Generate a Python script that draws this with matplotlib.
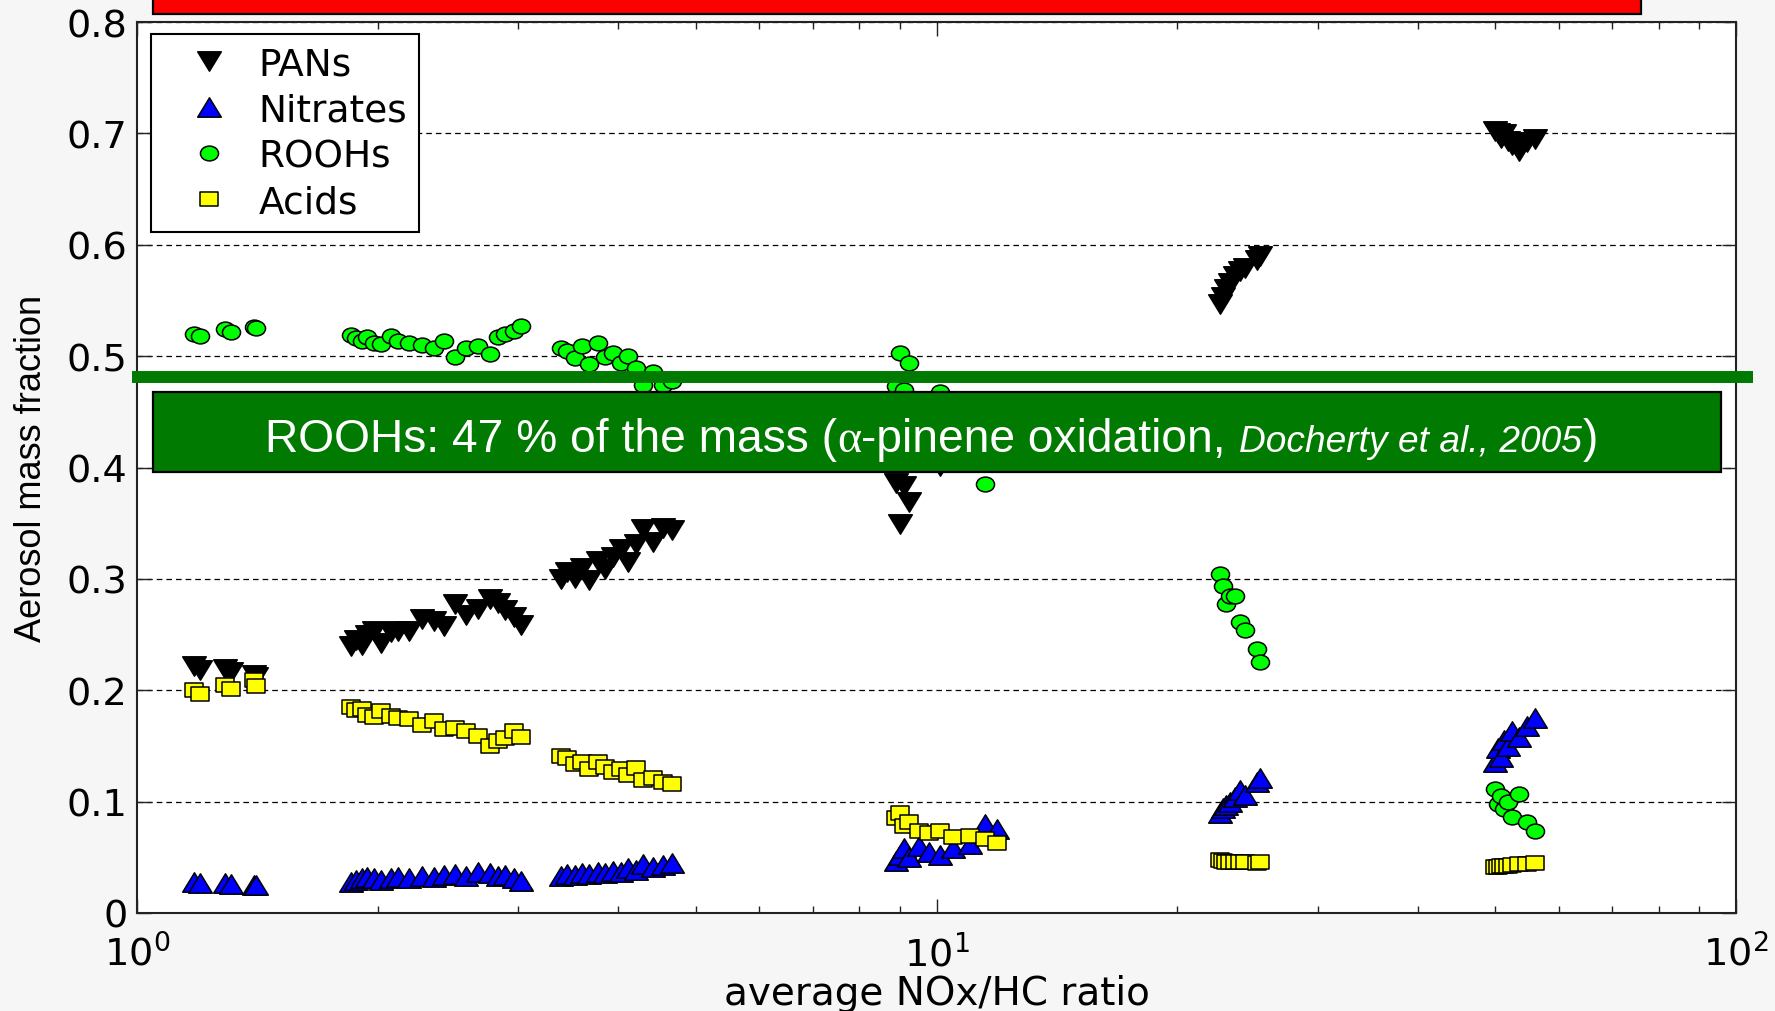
import numpy as np
import matplotlib
matplotlib.use("Agg")
import matplotlib.pyplot as plt
from matplotlib.path import Path
from matplotlib.markers import MarkerStyle
from matplotlib.patches import Rectangle
from matplotlib.lines import Line2D
from matplotlib.ticker import LogLocator, NullFormatter
import matplotlib.transforms as mtransforms

# ---- data: average NOx/HC ratio of each simulated run and the aerosol mass fractions ----
nox_hc = [
    # series of runs near NOx/HC ~ 1.2-1.4
    1.18, 1.20, 1.29, 1.31, 1.40, 1.41,
    # ~ 1.8-3
    1.85, 1.88, 1.91, 1.94, 1.98, 2.02, 2.08, 2.12, 2.19, 2.27,
    2.35, 2.42, 2.50, 2.58, 2.67, 2.76, 2.83, 2.89, 2.96, 3.02,
    # ~ 3.4-4.7
    3.39, 3.45, 3.53, 3.60, 3.68, 3.77, 3.85, 3.94, 4.03, 4.11,
    4.21, 4.30, 4.42, 4.55, 4.67,
    # ~ 9-12
    8.9, 9.0, 9.1, 9.25, 9.5, 9.8, 10.1, 10.5, 11.0, 11.5, 11.9,
    # ~ 23-25
    22.6, 22.8, 23.0, 23.3, 23.6, 24.0, 24.3, 25.2, 25.4,
    # ~ 50-56
    50.0, 50.4, 50.8, 51.3, 51.8, 52.5, 53.5, 54.7, 56.0,
]

pans = [
    0.222, 0.218, 0.219, 0.216, 0.214, 0.212,
    0.240, 0.245, 0.241, 0.250, 0.253, 0.242, 0.252, 0.253, 0.253, 0.264,
    0.262, 0.258, 0.277, 0.268, 0.273, 0.282, 0.278, 0.272, 0.266, 0.259,
    0.300, 0.306, 0.301, 0.310, 0.299, 0.316, 0.309, 0.320, 0.327, 0.315,
    0.331, 0.345, 0.333, 0.346, 0.344,
    0.386, 0.349, 0.383, 0.369, 0.412, 0.418, 0.401, 0.425, 0.432, 0.438, 0.445,
    0.547, 0.553, 0.560, 0.566, 0.572, 0.576, 0.579, 0.586, 0.590,
    0.702, 0.700, 0.696, 0.699, 0.693, 0.690, 0.684, 0.692, 0.695,
]

nitrates = [
    0.028, 0.027, 0.027, 0.026, 0.025, 0.025,
    0.028, 0.030, 0.031, 0.032, 0.031, 0.030, 0.031, 0.032, 0.031, 0.033,
    0.032, 0.034, 0.035, 0.033, 0.037, 0.036, 0.033, 0.034, 0.031, 0.029,
    0.033, 0.035, 0.034, 0.036, 0.035, 0.037, 0.036, 0.038, 0.037, 0.040,
    0.039, 0.044, 0.041, 0.043, 0.045,
    0.047, 0.052, 0.058, 0.050, 0.060, 0.055, 0.052, 0.058, 0.062, 0.080, 0.075,
    0.090, 0.094, 0.097, 0.100, 0.104, 0.110, 0.106, 0.118, 0.121,
    0.136, 0.148, 0.140, 0.155, 0.150, 0.163, 0.158, 0.168, 0.175,
]

roohs = [
    0.520, 0.518, 0.524, 0.522, 0.526, 0.525,
    0.519, 0.516, 0.514, 0.517, 0.512, 0.511, 0.518, 0.514, 0.512, 0.510,
    0.507, 0.514, 0.499, 0.507, 0.509, 0.502, 0.517, 0.520, 0.523, 0.527,
    0.507, 0.505, 0.498, 0.509, 0.493, 0.512, 0.499, 0.503, 0.494, 0.500,
    0.489, 0.474, 0.486, 0.474, 0.478,
    0.473, 0.503, 0.470, 0.494, 0.455, 0.445, 0.468, 0.430, 0.410, 0.385, 0.410,
    0.304, 0.294, 0.277, 0.285, 0.285, 0.261, 0.254, 0.237, 0.225,
    0.111, 0.098, 0.105, 0.093, 0.100, 0.086, 0.107, 0.082, 0.074,
]

acids = [
    0.200, 0.197, 0.205, 0.201, 0.209, 0.204,
    0.185, 0.182, 0.183, 0.178, 0.176, 0.181, 0.177, 0.175, 0.174, 0.169,
    0.172, 0.165, 0.166, 0.163, 0.159, 0.150, 0.154, 0.157, 0.163, 0.158,
    0.141, 0.139, 0.134, 0.136, 0.129, 0.136, 0.131, 0.127, 0.129, 0.124,
    0.130, 0.119, 0.121, 0.118, 0.116,
    0.085, 0.090, 0.078, 0.082, 0.074, 0.072, 0.074, 0.068, 0.069, 0.066, 0.063,
    0.048, 0.047, 0.046, 0.046, 0.046, 0.046, 0.046, 0.045, 0.046,
    0.041, 0.041, 0.042, 0.042, 0.042, 0.043, 0.044, 0.044, 0.045,
]

series_labels = ["PANs", "Nitrates", "ROOHs", "Acids"]
y_ticks = [0, 0.1, 0.2, 0.3, 0.4, 0.5, 0.6, 0.7, 0.8]
y_tick_labels = ["0", "0.1", "0.2", "0.3", "0.4", "0.5", "0.6", "0.7", "0.8"]
x_ticks = [1, 10, 100]
x_tick_labels = [r"$10^{0}$", r"$10^{1}$", r"$10^{2}$"]
rooh_level = 0.481   # horizontal marker line for the ROOH share

# ---- figure ----
plt.rcParams["font.family"] = ["DejaVu Sans"]
plt.rcParams["mathtext.default"] = "regular"

W, H = 1775, 1012
fig = plt.figure(figsize=(W / 100, H / 100), dpi=100, facecolor="#f6f6f6")
ax_l, ax_r, ax_t, ax_b = 137, 1736, 23, 914
ax = fig.add_axes([ax_l / W, (H - ax_b) / H, (ax_r - ax_l) / W, (ax_b - ax_t) / H])
ax.set_facecolor("white")

# horizontally widened marker shapes
S = 1.22
MO, LI, CL = Path.MOVETO, Path.LINETO, Path.CLOSEPOLY
tri_down = Path([[0, -1], [-S, 1], [S, 1], [0, -1]], [MO, LI, LI, CL])
tri_up = Path([[0, 1], [-S, -1], [S, -1], [0, 1]], [MO, LI, LI, CL])
uc = Path.unit_circle()
ellipse = Path(uc.vertices * [S, 1.0], uc.codes)
rect = Path([[-S, -1], [S, -1], [S, 1], [-S, 1], [-S, -1]], [MO, LI, LI, LI, CL])

styles = [
    (pans, tri_down, "black", 17),
    (nitrates, tri_up, "#0000ff", 17),
    (roohs, ellipse, "#00ff00", 13),
    (acids, rect, "#ffff00", 13),
]
for (vals, path, color, ms), label in zip(styles, series_labels):
    ax.plot(nox_hc, vals, linestyle="none",
            marker=MarkerStyle(path, joinstyle="miter"),
            markersize=ms, markerfacecolor=color, markeredgecolor="black",
            markeredgewidth=1.1, label=label, zorder=3)

ax.set_xscale("log")
ax.set_xlim(1, 100)
ax.set_ylim(0, 0.8)
ax.set_xticks(x_ticks)
ax.set_xticklabels(x_tick_labels)
ax.xaxis.set_minor_locator(LogLocator(base=10, subs=np.arange(2, 10)))
ax.xaxis.set_minor_formatter(NullFormatter())
ax.set_yticks(y_ticks)
ax.set_yticklabels(y_tick_labels)

ax.tick_params(which="both", direction="in", top=True, right=True,
               color="#222222", width=1.0)
ax.tick_params(which="major", length=10)
ax.tick_params(which="minor", length=5)
ax.tick_params(axis="y", labelsize=27.5, pad=7)
ax.tick_params(axis="x", labelsize=27.5, pad=15)
for sp in ax.spines.values():
    sp.set_linewidth(1.5)
    sp.set_color("#222222")

ax.yaxis.grid(True, linestyle=(0, (4.5, 3.2)), color="black", linewidth=0.9)
ax.set_axisbelow(True)

ax.set_xlabel("average NOx/HC ratio", fontsize=28, va="baseline")
ax.xaxis.set_label_coords(0.5, (ax_b - 1005) / (ax_b - ax_t))
ax.set_ylabel("Aerosol mass fraction", fontsize=26, va="center",
              family="Liberation Sans")
ax.yaxis.set_label_coords((32 - ax_l) / (ax_r - ax_l), 0.5)

leg = ax.legend(loc="upper left",
                bbox_to_anchor=((151 - ax_l) / (ax_r - ax_l), (ax_b - 35) / (ax_b - ax_t)),
                borderaxespad=0, fancybox=False, edgecolor="black", framealpha=1,
                fontsize=27, borderpad=0.32, handlelength=2.45, handletextpad=0.1,
                labelspacing=0.27)
leg.get_frame().set_linewidth(1.5)

# ---- slide annotations ----
# ROOH share line across the plot
blend = mtransforms.blended_transform_factory(fig.transFigure, ax.transData)
ax.add_line(Line2D([132 / W, 1753 / W], [rooh_level, rooh_level], transform=blend,
                   color="#007a00", linewidth=8.6, solid_capstyle="butt",
                   clip_on=False, zorder=6))

# green caption box
box_x0, box_x1, box_top, box_bot = 153, 1721, 393, 473
fig.patches.append(Rectangle((box_x0 / W, (H - box_bot) / H),
                             (box_x1 - box_x0) / W, (box_bot - box_top) / H,
                             transform=fig.transFigure, facecolor="#007a00",
                             edgecolor="black", linewidth=1.6, zorder=7))

# red title banner at the top edge
fig.patches.append(Rectangle((153 / W, (H - 15) / H), (1641 - 153) / W, 30 / H,
                             transform=fig.transFigure, facecolor="#ff0000",
                             edgecolor="black", linewidth=1.6, zorder=7))

# caption text, laid out piece by piece on a shared baseline
fig.canvas.draw()
renderer = fig.canvas.get_renderer()
sans = "Liberation Sans"
pieces = [
    ("ROOHs: 47 % of the mass (", dict(family=sans, size=33.2), 0.0),
    ("\u03b1", dict(family="Liberation Serif", size=33.2), 0.0),
    ("-pinene oxidation,", dict(family=sans, size=33.2), 13.0),
    ("Docherty et al., 2005", dict(family=sans, size=26.7, style="italic"), 1.0),
    (")", dict(family=sans, size=33.2), 0.0),
]
x = 265.0
base_y = (H - 452) / H
for text, props, gap in pieces:
    t = fig.text(x / W, base_y, text, ha="left", va="baseline", color="white",
                 zorder=8, **props)
    bb = t.get_window_extent(renderer)
    x = bb.x1 + gap

fig.savefig("out.png", dpi=100, facecolor=fig.get_facecolor())
